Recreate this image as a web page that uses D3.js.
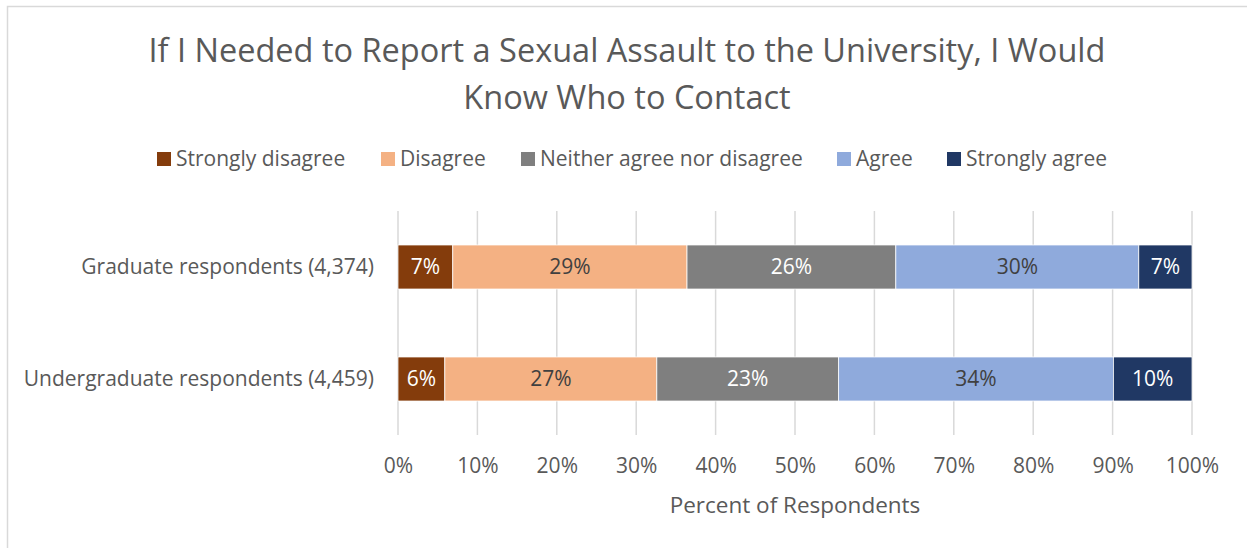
<!DOCTYPE html>
<html lang="en">
<head>
<meta charset="UTF-8">
<title>Report Sexual Assault - Know Who to Contact</title>
<script src="https://d3js.org/d3.v7.min.js"></script>
<style>
  body { margin: 0; background: #fff; }
  text { font-family: "Open Sans", "Noto Sans", sans-serif; }
</style>
</head>
<body>
<div id="chart"></div>
<script>
// data
const categories = ["Graduate respondents (4,374)", "Undergraduate respondents (4,459)"];
const seriesNames = ["Strongly disagree", "Disagree", "Neither agree nor disagree", "Agree", "Strongly agree"];
const seriesColors = ["#843C0C", "#F4B183", "#7F7F7F", "#8FAADC", "#203864"];
const labelColors = ["#ffffff", "#404040", "#ffffff", "#404040", "#ffffff"];
const graduateValues = [6.9, 29.5, 26.3, 30.6, 6.7];
const undergradValues = [5.9, 26.7, 22.9, 34.6, 9.9];
const valueLabels = [["7%", "29%", "26%", "30%", "7%"], ["6%", "27%", "23%", "34%", "10%"]];
const xTicks = [0, 10, 20, 30, 40, 50, 60, 70, 80, 90, 100];

const W = 1247, H = 548;
const svg = d3.select("#chart").append("svg")
    .attr("width", W).attr("height", H);

// chart frame (runs off the right/bottom edge in the reference)
svg.append("rect")
    .attr("x", 7.5).attr("y", 6.5)
    .attr("width", W + 20).attr("height", H + 20)
    .attr("fill", "none").attr("stroke", "#d9d9d9").attr("stroke-width", 1.5);

// title
const title = svg.append("text")
    .attr("text-anchor", "middle")
    .attr("fill", "#595959")
    .style("font-size", "32.5px");
title.append("tspan").attr("x", 627).attr("y", 62)
    .text("If I Needed to Report a Sexual Assault to the University, I Would");
title.append("tspan").attr("x", 627).attr("y", 109)
    .text("Know Who to Contact");

// legend
const legendX = [157, 381, 521, 837, 947];
const legend = svg.append("g").selectAll("g")
    .data(seriesNames)
    .enter().append("g")
    .attr("transform", (d, i) => `translate(${legendX[i]},159)`);
legend.append("rect")
    .attr("x", 0).attr("y", -7)
    .attr("width", 14).attr("height", 14)
    .attr("fill", (d, i) => seriesColors[i]);
legend.append("text")
    .attr("x", 19).attr("y", 0)
    .attr("dy", "0.35em")
    .attr("fill", "#595959")
    .style("font-size", "21px")
    .text(d => d);

// scales
const x = d3.scaleLinear().domain([0, 100]).range([398, 1192]);
const y = d3.scaleBand().domain(categories).range([211, 435]).paddingInner(0.607).paddingOuter(0.3035);

// gridlines
svg.append("g").selectAll("line")
    .data(xTicks)
    .enter().append("line")
    .attr("x1", d => x(d)).attr("x2", d => x(d))
    .attr("y1", 211).attr("y2", 435)
    .attr("stroke", "#d9d9d9").attr("stroke-width", 1.5);

// stacked bars
const rows = [graduateValues, undergradValues].map((vals, r) => {
    const row = { cat: categories[r] };
    seriesNames.forEach((s, i) => row[s] = vals[i]);
    return row;
});
const stack = d3.stack().keys(seriesNames)(rows);

const layers = svg.append("g").selectAll("g")
    .data(stack)
    .enter().append("g")
    .attr("fill", (d, i) => seriesColors[i]);

layers.selectAll("rect")
    .data(d => d)
    .enter().append("rect")
    .attr("x", d => x(d[0]))
    .attr("y", d => y(d.data.cat))
    .attr("width", d => x(d[1]) - x(d[0]))
    .attr("height", y.bandwidth())
    .attr("stroke", "#fff").attr("stroke-width", 0.75);

layers.each(function(layer, i) {
    d3.select(this).selectAll("text")
        .data(layer)
        .enter().append("text")
        .attr("x", d => (x(d[0]) + x(d[1])) / 2)
        .attr("y", d => y(d.data.cat) + y.bandwidth() / 2)
        .attr("dy", "0.35em")
        .attr("text-anchor", "middle")
        .attr("fill", labelColors[i])
        .style("font-size", "21px")
        .text((d, r) => valueLabels[r][i]);
});

// category axis labels
svg.append("g").selectAll("text")
    .data(categories)
    .enter().append("text")
    .attr("x", 374)
    .attr("y", d => y(d) + y.bandwidth() / 2)
    .attr("dy", "0.35em")
    .attr("text-anchor", "end")
    .attr("fill", "#595959")
    .style("font-size", "21px")
    .text(d => d);

// x axis
const xAxis = svg.append("g")
    .attr("transform", "translate(0,435)")
    .call(d3.axisBottom(x).tickValues(xTicks).tickFormat(d => d + "%").tickSize(0).tickPadding(23));
xAxis.select(".domain").remove();
xAxis.selectAll("text")
    .attr("fill", "#595959")
    .style("font-size", "21px")
    .style("font-family", "'Open Sans', 'Noto Sans', sans-serif");

svg.append("text")
    .attr("x", 795).attr("y", 513)
    .attr("text-anchor", "middle")
    .attr("fill", "#595959")
    .style("font-size", "22.5px")
    .text("Percent of Respondents");
</script>
</body>
</html>
